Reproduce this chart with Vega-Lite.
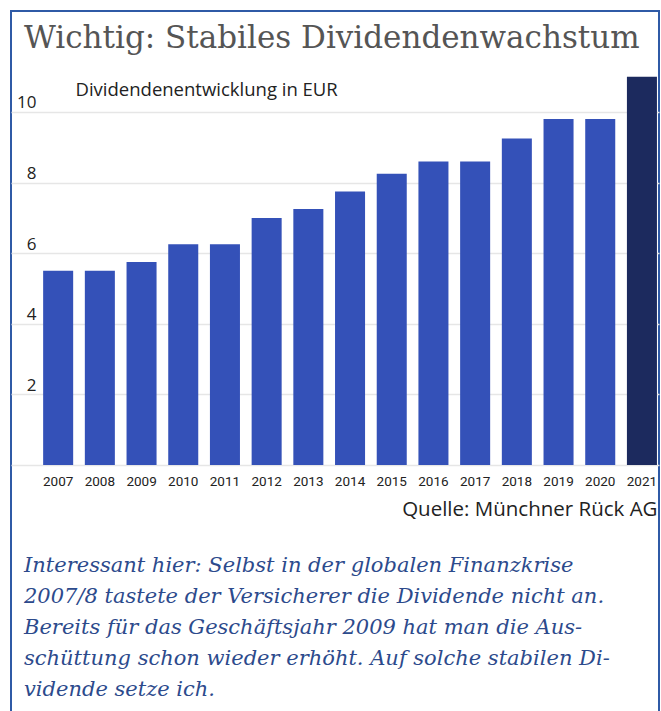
{
  "$schema": "https://vega.github.io/schema/vega-lite/v6.json",
  "width": 648,
  "height": 703,
  "autosize": {"type": "none"},
  "padding": {"left": 11, "top": 11, "right": 2, "bottom": -3},
  "background": "white",
  "config": {
    "view": {"stroke": "#2f5aa6", "strokeWidth": 2},
    "axis": {"gridColor": "#e6e6e6", "gridWidth": 1.5}
  },
  "title": {
    "text": "Wichtig: Stabiles Dividendenwachstum",
    "subtitle": [
      "Interessant hier: Selbst in der globalen Finanzkrise",
      "2007/8 tastete der Versicherer die Dividende nicht an.",
      "Bereits für das Geschäftsjahr 2009 hat man die Aus-",
      "schüttung schon wieder erhöht. Auf solche stabilen Di-",
      "vidende setze ich."
    ],
    "orient": "top",
    "anchor": "start",
    "frame": "group",
    "offset": -690,
    "dx": 13,
    "font": "DejaVu Serif",
    "fontSize": 31,
    "fontWeight": "normal",
    "color": "#555555",
    "subtitleFont": "DejaVu Serif",
    "subtitleFontStyle": "italic",
    "subtitleFontSize": 21,
    "subtitleColor": "#2c4a8c",
    "subtitleLineHeight": 31,
    "subtitlePadding": 500
  },
  "data": {
    "values": [
      {"year": "2007", "dividend": 5.5},
      {"year": "2008", "dividend": 5.5},
      {"year": "2009", "dividend": 5.75},
      {"year": "2010", "dividend": 6.25},
      {"year": "2011", "dividend": 6.25},
      {"year": "2012", "dividend": 7.0},
      {"year": "2013", "dividend": 7.25},
      {"year": "2014", "dividend": 7.75},
      {"year": "2015", "dividend": 8.25},
      {"year": "2016", "dividend": 8.6},
      {"year": "2017", "dividend": 8.6},
      {"year": "2018", "dividend": 9.25},
      {"year": "2019", "dividend": 9.8},
      {"year": "2020", "dividend": 9.8},
      {"year": "2021", "dividend": 11.0}
    ]
  },
  "mark": {"type": "bar"},
  "encoding": {
    "x": {
      "field": "year",
      "type": "nominal",
      "sort": null,
      "scale": {"paddingInner": 0.28, "paddingOuter": 0.41, "align": 0.94},
      "axis": {
        "offset": -249,
        "labelAngle": 0,
        "ticks": false,
        "domain": false,
        "labelPadding": 9,
        "labelFont": "Roboto",
        "labelFontSize": 13.5,
        "labelColor": "#222222",
        "title": "Quelle: Münchner Rück AG",
        "titleX": 646,
        "titleAlign": "right",
        "titleFont": "Open Sans",
        "titleFontSize": 20.5,
        "titleFontWeight": "normal",
        "titleColor": "#222222",
        "titlePadding": 12
      }
    },
    "y": {
      "field": "dividend",
      "type": "quantitative",
      "scale": {"domain": [-7.054, 12.861], "nice": false, "zero": false},
      "axis": {
        "values": [0, 2, 4, 6, 8, 10],
        "labelExpr": "datum.value == 0 ? '' : datum.label",
        "offset": -25,
        "ticks": false,
        "domain": false,
        "labelPadding": 0,
        "labelBaseline": "alphabetic",
        "labelOffset": -4,
        "labelFont": "Open Sans",
        "labelFontSize": 17,
        "labelColor": "#222222",
        "title": "Dividendenentwicklung in EUR",
        "titleAngle": 0,
        "titleX": 39,
        "titleY": 84,
        "titleAlign": "left",
        "titleBaseline": "alphabetic",
        "titleFont": "Open Sans",
        "titleFontSize": 18.5,
        "titleFontWeight": "normal",
        "titleColor": "#222222"
      }
    },
    "color": {
      "condition": {"test": "datum.year == '2021'", "value": "#1c2a5e"},
      "value": "#3451b8"
    }
  }
}
